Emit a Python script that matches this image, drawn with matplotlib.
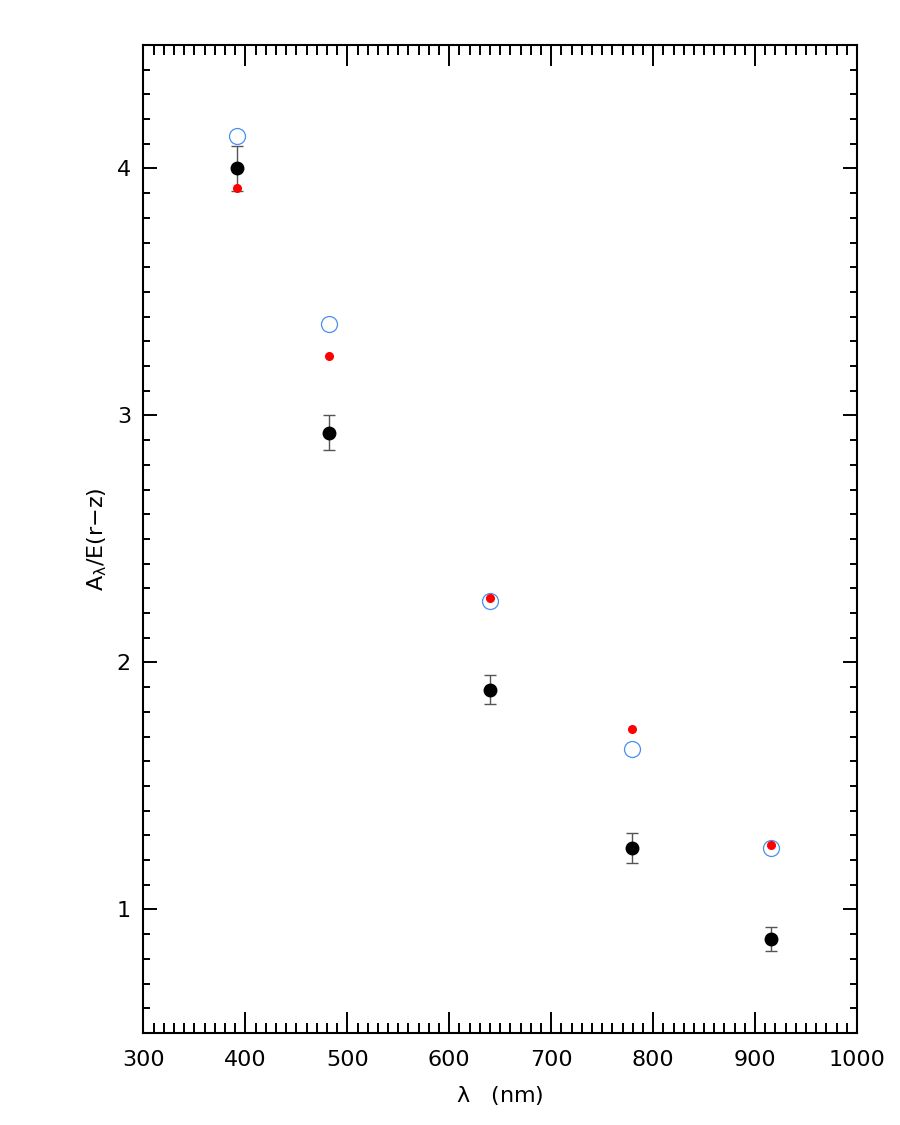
import matplotlib
matplotlib.use("Agg")
import matplotlib.pyplot as plt
from matplotlib.ticker import MultipleLocator

# wavelengths (nm)
wave = [392, 482, 640, 779, 916]

# measured A_lambda/E(r-z) with errors (black)
ratio = [4.00, 2.93, 1.89, 1.25, 0.88]
ratio_err = [0.09, 0.07, 0.06, 0.06, 0.05]

# red points
red_vals = [3.92, 3.24, 2.26, 1.73, 1.26]

# blue open circles
blue_vals = [4.13, 3.37, 2.25, 1.65, 1.25]

plt.rcParams['font.family'] = ['DejaVu Sans']

fig = plt.figure(figsize=(9, 11.25), dpi=100)
ax = fig.add_axes([0.1594, 0.0818, 0.7928, 0.8782])

ax.errorbar(wave, ratio, yerr=ratio_err, fmt='none', ecolor='#555555',
            elinewidth=1.0, capsize=4, capthick=1.0, zorder=2)
ax.plot(wave, ratio, 'o', color='black', markersize=9, zorder=3)
ax.plot(wave, blue_vals, 'o', mfc='none', mec='#4a8ef0', mew=0.9,
        markersize=11.5, zorder=4)
ax.plot(wave, red_vals, 'o', color='red', markersize=5.5, zorder=5)

ax.set_xlim(300, 1000)
ax.set_ylim(0.5, 4.5)
ax.xaxis.set_major_locator(MultipleLocator(100))
ax.xaxis.set_minor_locator(MultipleLocator(10))
ax.yaxis.set_major_locator(MultipleLocator(1))
ax.yaxis.set_minor_locator(MultipleLocator(0.1))

ax.tick_params(axis='both', which='both', direction='in',
               top=True, right=True, width=1.4, labelsize=16)
ax.tick_params(axis='x', which='major', length=15, pad=12)
ax.tick_params(axis='x', which='minor', length=7)
ax.tick_params(axis='y', which='major', length=10, pad=9)
ax.tick_params(axis='y', which='minor', length=5)

for s in ax.spines.values():
    s.set_linewidth(1.5)

ax.set_xlabel(r'$\mathregular{\lambda}$   (nm)', fontsize=16, labelpad=10)
ax.set_ylabel(r'A$_{\mathregular{\lambda}}$/E(r$-$z)', fontsize=16, labelpad=6)

fig.savefig('out.png', dpi=100)
